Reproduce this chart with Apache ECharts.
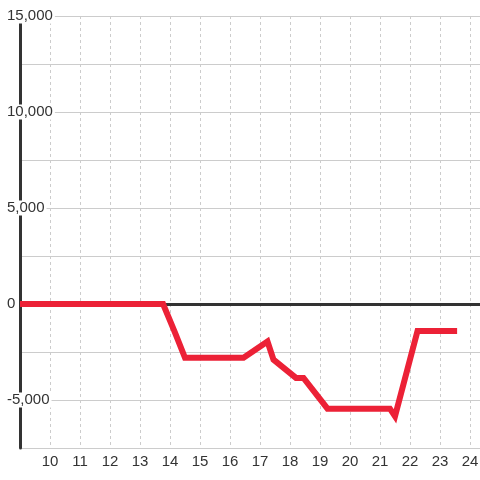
<!DOCTYPE html>
<html>
<head>
<meta charset="utf-8">
<script src="https://cdn.jsdelivr.net/npm/echarts@6/dist/echarts.min.js"></script>
<style>
  html, body { margin: 0; padding: 0; background: #fff; }
  #chart { width: 480px; height: 480px; }
</style>
</head>
<body>
<div id="chart"></div>
<script>
// hours on x, values on y
const hours = [9, 13.77, 14.17, 14.5, 16.45, 17.25, 17.45, 18.2, 18.45, 19.25, 21.33, 21.5, 22.25, 23.57]
const values = [0, 0, -1500, -2800, -2800, -1950, -2900, -3850, -3850, -5450, -5450, -5850, -1400, -1400]
const xRange = [9, 24.333]
const yRange = [-7500, 15000]

const chart = echarts.init(document.getElementById('chart'))
const textFont = '"Liberation Sans", Arial, sans-serif'

const option = {
  animation: false,
  grid: {
    left: 20,
    right: 0,
    top: 16,
    bottom: 32,
    containLabel: false,
    outerBoundsMode: 'none',
  },
  xAxis: {
    type: 'value',
    min: xRange[0],
    max: xRange[1],
    interval: 1,
    axisLine: { show: false },
    axisTick: { show: false },
    axisLabel: {
      margin: 6,
      fontSize: 15,
      fontFamily: textFont,
      color: '#333',
      formatter: (v) => (Number.isInteger(v) && v > xRange[0] ? String(v) : ''),
    },
    splitLine: {
      show: true,
      lineStyle: { color: '#ccc', width: 1, type: [3, 3] },
    },
  },
  yAxis: {
    type: 'value',
    min: yRange[0],
    max: yRange[1],
    interval: 2500,
    axisLine: { show: true, lineStyle: { color: '#333', width: 3 } },
    axisTick: { show: false },
    axisLabel: {
      margin: 13,
      align: 'left',
      formatter: (v) => (v % 5000 === 0 ? '{b|' + v.toLocaleString('en-US') + '}' : ''),
      rich: {
        b: {
          fontSize: 15,
          fontFamily: textFont,
          color: '#333',
          backgroundColor: '#fff',
          padding: [0, 2, 0, 0],
        },
      },
    },
    splitLine: {
      show: true,
      lineStyle: { color: '#ccc', width: 1 },
    },
  },
  series: [
    {
      type: 'line',
      data: hours.map((h, i) => [h, values[i]]),
      symbol: 'none',
      z: 3,
      lineStyle: { color: '#ec2136', width: 6, cap: 'butt', join: 'miter' },
      markLine: {
        z: 1,
        silent: true,
        symbol: ['none', 'none'],
        label: { show: false },
        lineStyle: { color: '#333', width: 3, type: 'solid' },
        data: [{ yAxis: 0 }],
      },
    },
  ],
}

chart.setOption(option)
</script>
</body>
</html>
